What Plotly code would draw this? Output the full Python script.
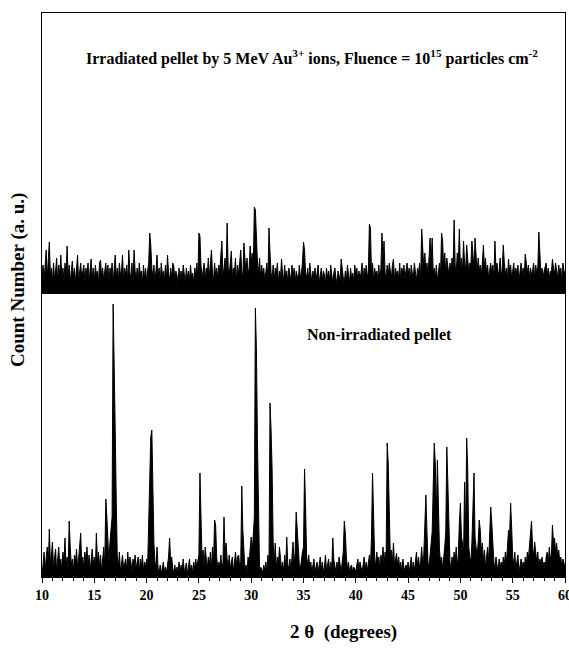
import numpy as np
import plotly.graph_objects as go

# 2-theta grid: 10.0 .. 60.0 in 0.1 degree steps
two_theta = [round(10 + i * 0.1, 1) for i in range(501)]

# Irradiated pellet (top panel) - counts per 0.1 deg, one row per degree (10..59), then 60.0
irradiated_rows = [
    [20, 28, 12, 25, 43, 15, 30, 51, 18, 25],
    [12, 30, 15, 22, 35, 10, 28, 18, 38, 14],
    [25, 12, 30, 18, 47, 15, 28, 10, 22, 32],
    [15, 25, 10, 28, 38, 12, 22, 30, 15, 20],
    [28, 10, 25, 18, 30, 12, 22, 34, 15, 25],
    [12, 28, 18, 22, 10, 30, 33, 15, 25, 12],
    [22, 30, 15, 28, 12, 25, 18, 30, 10, 22],
    [38, 15, 25, 12, 30, 18, 22, 38, 12, 25],
    [18, 28, 12, 43, 20, 15, 30, 10, 43, 22],
    [15, 25, 12, 30, 18, 22, 10, 28, 15, 25],
    [12, 22, 30, 60, 48, 25, 15, 28, 12, 22],
    [38, 15, 25, 10, 30, 18, 22, 12, 28, 15],
    [38, 20, 12, 25, 15, 30, 27, 12, 22, 18],
    [10, 25, 15, 22, 12, 28, 18, 10, 25, 15],
    [22, 12, 28, 15, 20, 10, 25, 18, 30, 15],
    [60, 57, 28, 15, 22, 30, 12, 25, 18, 35],
    [15, 28, 43, 20, 12, 30, 18, 25, 15, 28],
    [22, 38, 52, 15, 28, 35, 20, 70, 25, 18],
    [30, 42, 15, 25, 20, 35, 12, 28, 18, 30],
    [43, 22, 15, 50, 28, 20, 35, 18, 25, 47],
    [30, 40, 25, 86, 83, 50, 30, 20, 35, 15],
    [28, 18, 25, 12, 22, 30, 15, 65, 40, 20],
    [15, 28, 12, 25, 18, 30, 10, 22, 15, 34],
    [20, 12, 28, 15, 22, 10, 25, 18, 12, 28],
    [15, 25, 10, 22, 18, 12, 28, 15, 20, 30],
    [51, 43, 20, 15, 25, 12, 30, 18, 10, 22],
    [15, 25, 12, 20, 28, 10, 18, 25, 12, 22],
    [18, 10, 25, 15, 22, 12, 28, 18, 10, 20],
    [25, 15, 10, 22, 18, 12, 34, 20, 15, 10],
    [22, 12, 28, 18, 10, 25, 15, 20, 12, 28],
    [18, 25, 10, 22, 15, 20, 30, 12, 25, 18],
    [28, 15, 22, 69, 65, 20, 30, 12, 25, 18],
    [22, 15, 28, 12, 25, 60, 35, 52, 20, 15],
    [28, 18, 30, 22, 15, 28, 34, 12, 25, 18],
    [22, 15, 30, 12, 25, 20, 28, 15, 22, 30],
    [18, 25, 12, 28, 20, 15, 30, 22, 12, 25],
    [20, 30, 15, 64, 34, 25, 40, 22, 30, 18],
    [35, 55, 30, 55, 20, 25, 15, 28, 12, 22],
    [30, 18, 60, 52, 25, 40, 20, 35, 28, 18],
    [30, 22, 35, 25, 73, 28, 20, 40, 30, 64],
    [25, 35, 20, 52, 30, 22, 48, 35, 20, 30],
    [28, 52, 40, 25, 55, 30, 20, 35, 22, 28],
    [18, 30, 48, 25, 35, 20, 28, 15, 22, 30],
    [20, 28, 15, 52, 25, 30, 18, 22, 35, 15],
    [25, 48, 30, 18, 25, 15, 34, 22, 28, 15],
    [22, 30, 15, 25, 18, 28, 12, 22, 30, 18],
    [25, 15, 39, 30, 20, 28, 15, 25, 18, 22],
    [30, 15, 28, 20, 25, 61, 30, 18, 25, 15],
    [22, 28, 30, 18, 25, 15, 22, 20, 34, 25],
    [18, 30, 22, 15, 28, 20, 25, 12, 30, 22],
    [20],
]

# Non-irradiated pellet (bottom panel)
non_irradiated_rows = [
    [0, 12, 25, 8, 18, 30, 10, 48, 15, 22],
    [35, 8, 20, 28, 5, 22, 30, 12, 18, 6],
    [25, 14, 39, 10, 20, 8, 56, 30, 12, 18],
    [5, 22, 15, 28, 10, 18, 30, 44, 12, 20],
    [8, 25, 15, 30, 10, 22, 6, 18, 28, 12],
    [20, 8, 44, 15, 25, 10, 22, 5, 18, 30],
    [12, 78, 60, 25, 15, 35, 47, 60, 273, 220],
    [147, 74, 20, 10, 25, 5, 15, 22, 8, 12],
    [18, 6, 25, 10, 20, 15, 5, 18, 12, 22],
    [8, 15, 20, 5, 18, 10, 22, 6, 15, 10],
    [18, 12, 60, 120, 140, 147, 87, 34, 15, 10],
    [30, 8, 5, 12, 3, 8, 15, 5, 10, 4],
    [12, 20, 39, 15, 20, 8, 5, 12, 3, 10],
    [6, 15, 4, 12, 8, 18, 5, 10, 14, 3],
    [10, 18, 6, 12, 4, 15, 8, 18, 10, 15],
    [22, 104, 60, 18, 27, 10, 30, 15, 8, 20],
    [12, 25, 8, 30, 15, 57, 52, 20, 8, 15],
    [10, 22, 6, 15, 60, 25, 34, 18, 10, 22],
    [8, 15, 20, 5, 18, 25, 12, 20, 22, 10],
    [15, 91, 47, 18, 8, 12, 5, 20, 15, 28],
    [40, 25, 44, 60, 269, 227, 134, 87, 7, 10],
    [8, 4, 12, 6, 15, 5, 22, 10, 174, 147],
    [107, 34, 15, 34, 8, 20, 12, 30, 18, 8],
    [15, 5, 22, 10, 40, 12, 8, 18, 5, 20],
    [35, 12, 25, 65, 47, 20, 12, 8, 18, 25],
    [30, 108, 70, 20, 12, 22, 8, 15, 5, 12],
    [18, 5, 10, 15, 4, 12, 20, 8, 15, 5],
    [10, 22, 6, 12, 18, 5, 15, 8, 39, 17],
    [12, 5, 15, 8, 20, 10, 5, 15, 25, 56],
    [44, 20, 8, 15, 5, 10, 12, 4, 10, 8],
    [5, 12, 18, 6, 15, 10, 4, 12, 20, 8],
    [15, 6, 12, 22, 10, 40, 104, 54, 20, 10],
    [25, 15, 20, 8, 22, 15, 30, 12, 25, 18],
    [134, 114, 54, 20, 27, 15, 34, 12, 18, 24],
    [10, 20, 8, 15, 5, 18, 10, 6, 12, 8],
    [15, 5, 12, 20, 8, 15, 6, 18, 25, 10],
    [20, 8, 15, 30, 12, 22, 60, 82, 47, 15],
    [10, 22, 30, 45, 90, 134, 114, 60, 117, 67],
    [27, 15, 20, 8, 25, 30, 45, 130, 94, 34],
    [15, 8, 20, 12, 25, 15, 30, 10, 22, 54],
    [74, 40, 34, 20, 95, 45, 139, 107, 30, 20],
    [15, 35, 74, 104, 40, 27, 20, 35, 57, 47],
    [25, 34, 15, 27, 10, 20, 30, 15, 40, 70],
    [54, 25, 15, 8, 20, 12, 5, 18, 10, 15],
    [8, 20, 12, 25, 15, 30, 47, 40, 74, 50],
    [20, 12, 25, 8, 15, 22, 5, 12, 18, 10],
    [15, 8, 20, 12, 25, 18, 30, 47, 56, 30],
    [20, 35, 22, 15, 25, 8, 18, 12, 20, 10],
    [15, 8, 20, 25, 12, 30, 18, 22, 52, 35],
    [39, 25, 34, 20, 27, 15, 20, 10, 18, 14],
    [10],
]

irradiated = [v for row in irradiated_rows for v in row]
non_irradiated = [v for row in non_irradiated_rows for v in row]

x_ticks = [10, 15, 20, 25, 30, 35, 40, 45, 50, 55, 60]

FONT = "Liberation Serif"

fig = go.Figure()
fig.add_trace(go.Scatter(
    x=two_theta, y=irradiated, xaxis="x2", yaxis="y2", mode="lines",
    line=dict(color="black", width=1), fill="tozeroy", fillcolor="black",
    showlegend=False, hoverinfo="skip"))
fig.add_trace(go.Scatter(
    x=two_theta, y=non_irradiated, xaxis="x", yaxis="y", mode="lines",
    line=dict(color="black", width=1), fill="tozeroy", fillcolor="black",
    showlegend=False, hoverinfo="skip"))

split = (577 - 293) / 564

fig.update_layout(
    width=569, height=649,
    margin=dict(l=42, r=4, t=13, b=72, autoexpand=False),
    paper_bgcolor="white", plot_bgcolor="white",
    font=dict(family=FONT, color="black"),
    xaxis=dict(
        range=[10, 60], domain=[0, 1], anchor="y", automargin=False,
        showline=True, linecolor="black", linewidth=1, mirror=False,
        showgrid=False, zeroline=False,
        tickmode="array", tickvals=x_ticks, ticktext=[str(t) for t in x_ticks],
        ticks="outside", ticklen=5, tickwidth=1, tickcolor="black",
        ticklabeloverflow="allow",
        minor=dict(ticks="outside", dtick=1, ticklen=3, tickcolor="black"),
        tickfont=dict(family=FONT, size=14, color="black", weight="bold"),
    ),
    yaxis=dict(
        range=[0, 284], domain=[0, split], anchor="x", automargin=False,
        showline=True, linecolor="black", linewidth=1, mirror=True,
        showgrid=False, zeroline=False, showticklabels=False, ticks="",
    ),
    xaxis2=dict(
        range=[10, 60], domain=[0, 1], anchor="y2", automargin=False,
        showline=True, linecolor="black", linewidth=1, mirror=True,
        showgrid=False, zeroline=False, showticklabels=False, ticks="",
    ),
    yaxis2=dict(
        range=[0, 280], domain=[split, 1], anchor="x2", automargin=False,
        showline=True, linecolor="black", linewidth=1, mirror=True,
        showgrid=False, zeroline=False, showticklabels=False, ticks="",
    ),
    annotations=[
        dict(x=35.8, y=236, xref="x2", yref="y2", showarrow=False,
             text="<b>Irradiated pellet by 5 MeV Au<sup>3+</sup> ions, Fluence = 10<sup>15</sup> particles cm<sup>-2</sup></b>",
             font=dict(family=FONT, size=16, color="black")),
        dict(x=42.3, y=242, xref="x", yref="y", showarrow=False,
             text="<b>Non-irradiated pellet</b>",
             font=dict(family=FONT, size=16, color="black")),
        dict(x=(343 - 42) / 523, y=-(632 - 577) / 564, xref="paper", yref="paper",
             xanchor="center", yanchor="middle",
             showarrow=False, text="<b>2 θ  (degrees)</b>",
             font=dict(family=FONT, size=19, color="black")),
        dict(x=-(42 - 18) / 523, y=(577 - 280) / 564, xref="paper", yref="paper",
             xanchor="center", yanchor="middle",
             showarrow=False, textangle=-90, text="<b>Count Number (a. u.)</b>",
             font=dict(family=FONT, size=19, color="black")),
    ],
)

fig.write_html("out.html")
